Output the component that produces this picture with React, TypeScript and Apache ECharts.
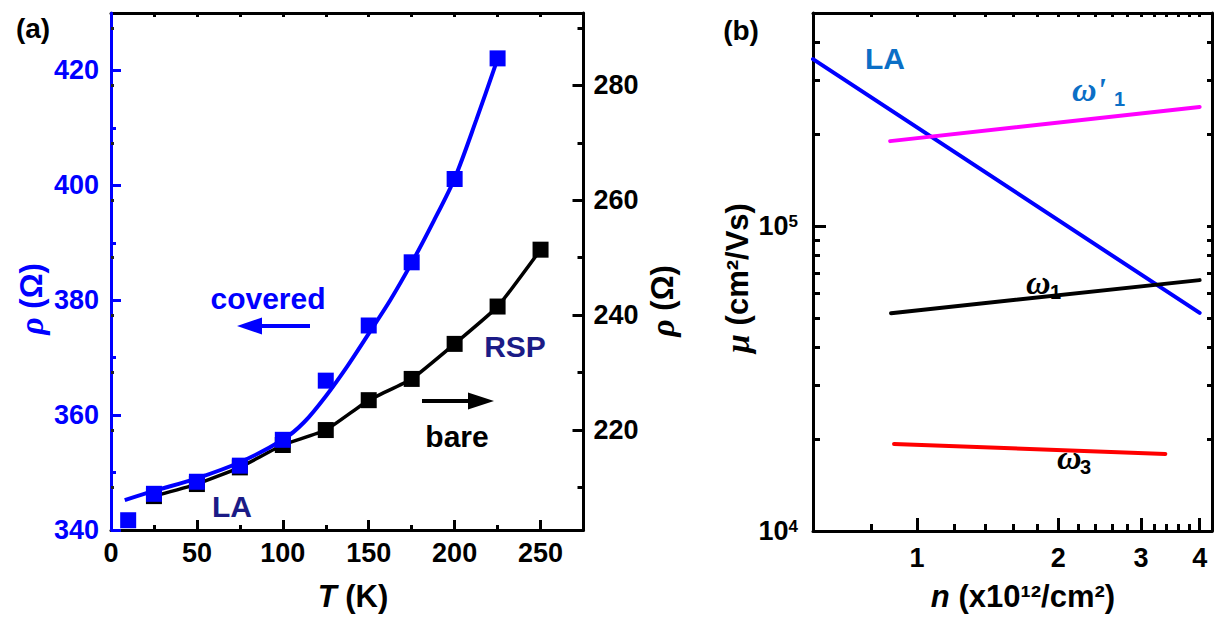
import React, { useEffect, useRef } from 'react';
import * as echarts from 'echarts';

const SANS = '"Liberation Sans", Arial, Helvetica, sans-serif';
const SERIF = '"Liberation Serif", "Times New Roman", serif';
const BLACK = '#000000';
const BLUE = '#0000ff';
const NAVY = '#1b1b86';
const SKY = '#0b6fc6';
const MAGENTA = '#ff00ff';
const RED = '#ff0000';

// Panel (a): temperature axis and the two resistance scales
const tempTicks = [0, 50, 100, 150, 200, 250];
const tempMinorTicks = [25, 75, 125, 175, 225];
const tempTopTicks = [25, 50, 75, 100, 125, 150, 175, 200, 225, 250];
const coveredTicks = [340, 360, 380, 400, 420];
const coveredMinorTicks = [350, 370, 390, 410];
const bareTicks = [220, 240, 260, 280];
const bareMinorTicks = [210, 230, 250, 270, 290];
const bareAllTicks = [210, 220, 230, 240, 250, 260, 270, 280, 290];

// Covered sample, left scale
const coveredT = [10, 25, 50, 75, 100, 125, 150, 175, 200, 225];
const coveredRho = [341.7, 346.3, 348.4, 351.2, 355.7, 366.0, 375.6, 386.6, 401.1, 422.1];
// Fitted curve through the covered sample
const coveredFitT = [8, 25, 50, 75, 100, 112.5, 125, 137.5, 150, 162.5, 175, 187.5, 200, 212.5, 225];
const coveredFitRho = [345.2, 346.8, 349.0, 351.8, 355.7, 358.8, 363.3, 368.5, 374.2, 380.0, 386.5, 393.6, 401.2, 411.3, 422.0];
// Bare sample, right scale
const bareT = [25, 50, 75, 100, 125, 150, 175, 200, 225, 250];
const bareRho = [208.5, 210.6, 213.5, 217.4, 220.0, 225.2, 228.9, 235.0, 241.5, 251.4];

// Panel (b): density and mobility axes
const densityTicks = [1, 2, 3, 4];
const densityMinorTicks = [0.8, 1.2, 1.4, 1.6, 1.8, 2.2, 2.4, 2.6, 2.8, 3.2, 3.4, 3.6, 3.8];
const mobilityTicks = [1e4, 1e5];
const mobilityMinorTicks = [2e4, 3e4, 4e4, 5e4, 6e4, 7e4, 8e4, 9e4, 2e5, 3e5, 4e5];

// Mobility limits from each scattering mechanism
const laN = [0.6, 4.0];
const laMu = [3.53e5, 5.19e4];
const omega1pN = [0.876, 4.0];
const omega1pMu = [1.9e5, 2.46e5];
const omega1N = [0.88, 4.0];
const omega1Mu = [5.18e4, 6.65e4];
const omega3N = [0.893, 3.38];
const omega3Mu = [1.93e4, 1.79e4];

const pairs = (xs: number[], ys: number[]) => xs.map((x, i) => [x, ys[i]]);

type AxisOpts = {
  line?: boolean;
  color?: string;
  ticks?: number[];
  tickLen?: number;
  labels?: number[];
  labelMargin?: number;
  formatter?: (v: number) => string;
  rich?: Record<string, any>;
};

function axis(base: Record<string, any>, o: AxisOpts) {
  const color = o.color ?? BLACK;
  const label: Record<string, any> = o.labels
    ? {
        show: true,
        customValues: o.labels,
        margin: o.labelMargin ?? 10,
        color,
        fontSize: 27,
        fontWeight: 'bold',
        fontFamily: SANS,
      }
    : { show: false };
  if (o.formatter) label.formatter = o.formatter;
  if (o.rich) label.rich = o.rich;
  return {
    ...base,
    axisLine: { show: !!o.line, onZero: false, lineStyle: { color, width: 3 } },
    axisTick: o.ticks
      ? { show: true, inside: true, length: o.tickLen ?? 10, customValues: o.ticks, lineStyle: { color, width: 3 } }
      : { show: false },
    axisLabel: label,
    splitLine: { show: false },
    minorTick: { show: false },
  };
}

const text = (
  x: number,
  y: number,
  content: string,
  fill: string,
  extra: Record<string, any> = {},
  el: Record<string, any> = {}
) => ({
  type: 'text',
  x,
  y,
  ...el,
  style: {
    text: content,
    fill,
    fontSize: 30,
    fontWeight: 'bold',
    fontFamily: SANS,
    align: 'center',
    verticalAlign: 'middle',
    ...extra,
  },
});

const greek = { fontFamily: SERIF, fontStyle: 'italic', fontWeight: 'bold' };

export default function App() {
  const ref = useRef<HTMLDivElement>(null);

  useEffect(() => {
    if (!ref.current) return;
    const chart = echarts.init(ref.current, null, { renderer: 'svg' });

    const tempBase = { gridIndex: 0, type: 'value', min: 0, max: 275 };
    const densBase = { gridIndex: 1, type: 'log', logBase: 10, min: 0.6, max: 4.25 };
    const coveredBase = { gridIndex: 0, type: 'value', min: 340, max: 430 };
    const bareBase = { gridIndex: 0, type: 'value', min: 202.6, max: 292.6 };
    const mobBase = { gridIndex: 1, type: 'log', logBase: 10, min: 1e4, max: 5e5 };

    const option: any = {
      animation: false,
      backgroundColor: '#ffffff',
      grid: [
        { left: 111, top: 13, width: 472.5, height: 517 },
        { left: 813, top: 13, width: 399, height: 518 },
      ],
      xAxis: [
        axis({ ...tempBase, position: 'bottom' }, { line: true, ticks: tempTicks, tickLen: 10, labels: tempTicks, labelMargin: 9 }),
        axis({ ...tempBase, position: 'bottom' }, { ticks: tempMinorTicks, tickLen: 5 }),
        axis({ ...tempBase, position: 'top' }, { line: true, ticks: tempTopTicks, tickLen: 4 }),
        axis({ ...densBase, position: 'bottom' }, { line: true, ticks: densityTicks, tickLen: 13, labels: densityTicks, labelMargin: 13 }),
        axis({ ...densBase, position: 'bottom' }, { ticks: densityMinorTicks, tickLen: 7 }),
        axis({ ...densBase, position: 'top' }, { line: true, ticks: [...densityTicks, ...densityMinorTicks], tickLen: 4 }),
      ],
      yAxis: [
        axis({ ...coveredBase, position: 'left', z: 5 }, { line: true, color: BLUE, ticks: coveredTicks, tickLen: 10, labels: coveredTicks, labelMargin: 12 }),
        axis({ ...coveredBase, position: 'left', z: 5 }, { color: BLUE, ticks: coveredMinorTicks, tickLen: 5 }),
        axis({ ...bareBase, position: 'right' }, { line: true, ticks: bareTicks, tickLen: 11, labels: bareTicks, labelMargin: 10 }),
        axis({ ...bareBase, position: 'right' }, { ticks: bareMinorTicks, tickLen: 6 }),
        axis({ ...bareBase, position: 'left', z: 6 }, { color: '#222222', ticks: bareAllTicks, tickLen: 3 }),
        axis({ ...mobBase, position: 'left' }, {
          line: true,
          ticks: mobilityTicks,
          tickLen: 13,
          labels: mobilityTicks,
          labelMargin: 15,
          formatter: (v: number) => `{b|10}{s|${Math.round(Math.log10(v))}}`,
          rich: {
            b: { fontSize: 27, fontWeight: 'bold', fontFamily: SANS, color: BLACK },
            s: { fontSize: 17, fontWeight: 'bold', fontFamily: SANS, color: BLACK, verticalAlign: 'top' },
          },
        }),
        axis({ ...mobBase, position: 'left' }, { ticks: mobilityMinorTicks, tickLen: 7 }),
        axis({ ...mobBase, position: 'right' }, { line: true, ticks: [...mobilityTicks, ...mobilityMinorTicks], tickLen: 5 }),
      ],
      series: [
        {
          type: 'line',
          name: 'bare',
          xAxisIndex: 0,
          yAxisIndex: 2,
          data: pairs(bareT, bareRho),
          symbol: 'rect',
          symbolSize: 16,
          showSymbol: true,
          smooth: 0.15,
          lineStyle: { color: BLACK, width: 3.5 },
          itemStyle: { color: BLACK, opacity: 1 },
          z: 2,
        },
        {
          type: 'line',
          name: 'covered fit',
          xAxisIndex: 0,
          yAxisIndex: 0,
          data: pairs(coveredFitT, coveredFitRho),
          symbol: 'none',
          smooth: 0.3,
          lineStyle: { color: BLUE, width: 4 },
          z: 3,
        },
        {
          type: 'scatter',
          name: 'covered',
          xAxisIndex: 0,
          yAxisIndex: 0,
          data: pairs(coveredT, coveredRho),
          symbol: 'rect',
          symbolSize: 16,
          itemStyle: { color: BLUE, opacity: 1 },
          z: 4,
        },
        {
          type: 'line',
          name: 'LA',
          xAxisIndex: 3,
          yAxisIndex: 5,
          data: pairs(laN, laMu),
          symbol: 'none',
          lineStyle: { color: BLUE, width: 4, cap: 'round' },
        },
        {
          type: 'line',
          name: "ω'1",
          xAxisIndex: 3,
          yAxisIndex: 5,
          data: pairs(omega1pN, omega1pMu),
          symbol: 'none',
          lineStyle: { color: MAGENTA, width: 4, cap: 'round' },
        },
        {
          type: 'line',
          name: 'ω1',
          xAxisIndex: 3,
          yAxisIndex: 5,
          data: pairs(omega1N, omega1Mu),
          symbol: 'none',
          lineStyle: { color: BLACK, width: 4, cap: 'round' },
        },
        {
          type: 'line',
          name: 'ω3',
          xAxisIndex: 3,
          yAxisIndex: 5,
          data: pairs(omega3N, omega3Mu),
          symbol: 'none',
          lineStyle: { color: RED, width: 4, cap: 'round' },
        },
      ],
      graphic: [
        text(33, 28, '(a)', BLACK, { fontSize: 28 }),
        text(741, 30, '(b)', BLACK, { fontSize: 28 }),
        // panel (a) annotations
        text(268, 298, 'covered', BLUE),
        { type: 'line', shape: { x1: 310, y1: 326, x2: 252, y2: 326 }, style: { stroke: BLUE, lineWidth: 4 } },
        { type: 'polygon', shape: { points: [[237, 326], [262, 317.5], [262, 334.5]] }, style: { fill: BLUE } },
        { type: 'line', shape: { x1: 422, y1: 401, x2: 480, y2: 401 }, style: { stroke: BLACK, lineWidth: 4 } },
        { type: 'polygon', shape: { points: [[494, 401], [468, 392.5], [468, 409.5]] }, style: { fill: BLACK } },
        text(457, 436, 'bare', BLACK),
        text(515, 346, 'RSP', NAVY),
        text(232, 506, 'LA', NAVY),
        // axis titles, panel (a)
        text(353, 596, '{i|T} (K)', BLACK, {
          fontSize: 31,
          rich: { i: { fontSize: 31, fontWeight: 'bold', fontStyle: 'italic', fontFamily: SANS, fill: BLACK } },
        }),
        text(31, 299, '{g|ρ} (Ω)', BLUE, {
          fontSize: 31,
          rich: { g: { ...greek, fontSize: 34, fill: BLUE } },
        }, { rotation: Math.PI / 2 }),
        text(662, 301, '{g|ρ} (Ω)', BLACK, {
          fontSize: 31,
          rich: { g: { ...greek, fontSize: 34, fill: BLACK } },
        }, { rotation: Math.PI / 2 }),
        // panel (b) annotations
        text(885, 58, 'LA', SKY),
        text(1072, 89, "ω'", SKY, { ...greek, fontSize: 34, align: 'left' }),
        text(1114, 99, '1', SKY, { fontSize: 20, align: 'left' }),
        text(1026, 282, 'ω', BLACK, { ...greek, fontSize: 34, align: 'left' }),
        text(1050, 292, '1', BLACK, { fontSize: 20, align: 'left' }),
        text(1057, 457, 'ω', BLACK, { ...greek, fontSize: 34, align: 'left' }),
        text(1080, 467, '3', BLACK, { fontSize: 20, align: 'left' }),
        // axis titles, panel (b)
        text(1023, 596, '{i|n} (x10¹²/cm²)', BLACK, {
          fontSize: 31,
          rich: { i: { fontSize: 31, fontWeight: 'bold', fontStyle: 'italic', fontFamily: SANS, fill: BLACK } },
        }),
        text(737, 278, '{g|μ} (cm²/Vs)', BLACK, {
          fontSize: 31,
          rich: { g: { ...greek, fontSize: 34, fill: BLACK } },
        }, { rotation: Math.PI / 2 }),
      ],
    };

    chart.setOption(option);
    return () => chart.dispose();
  }, []);

  return (
    <div
      ref={ref}
      style={{ position: 'fixed', left: 0, top: 0, width: 1217, height: 623, background: '#fff' }}
    />
  );
}
